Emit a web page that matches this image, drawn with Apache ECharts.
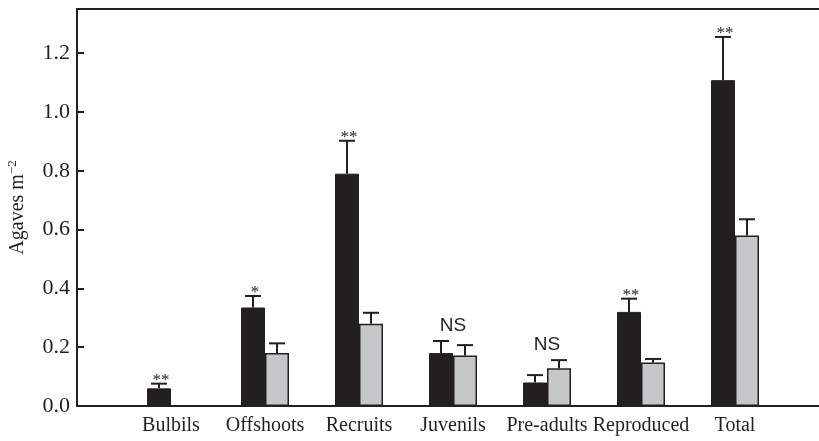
<!DOCTYPE html>
<html>
<head>
<meta charset="utf-8">
<script src="https://cdn.jsdelivr.net/npm/echarts@6/dist/echarts.min.js"></script>
<style>
  html, body { margin: 0; padding: 0; background: #fff; }
  #chart { width: 819px; height: 441px; }
</style>
</head>
<body>
<div id="chart"></div>
<script>
// data
const categories = ['Bulbils', 'Offshoots', 'Recruits', 'Juvenils', 'Pre-adults', 'Reproduced', 'Total']
const blackMean = [0.06, 0.335, 0.79, 0.18, 0.08, 0.32, 1.108]
const blackSE = [0.016, 0.039, 0.112, 0.041, 0.025, 0.045, 0.147]
const grayMean = [0, 0.18, 0.28, 0.172, 0.128, 0.148, 0.58]
const graySE = [0, 0.033, 0.037, 0.035, 0.028, 0.012, 0.055]
const sigLabels = ['**', '*', '**', 'NS', 'NS', '**', '**']
const tickValues = [0, 0.2, 0.4, 0.6, 0.8, 1.0, 1.2]

const INK = '#231f20'
const BAR_W = 24
const serif = '"Liberation Serif", "DejaVu Serif", serif'

var chart = echarts.init(document.getElementById('chart'))

function errorBars (offset) {
  return function (params, api) {
    var cat = api.value(0)
    var mean = api.value(1)
    var se = api.value(2)
    if (!se) return null
    var base = api.coord([cat, mean])
    var top = api.coord([cat, mean + se])
    var x = base[0] + offset
    return {
      type: 'group',
      children: [
        { type: 'line', shape: { x1: x, y1: base[1], x2: x, y2: top[1] }, style: { stroke: INK, lineWidth: 2 } },
        { type: 'line', shape: { x1: x - 8, y1: top[1], x2: x + 8, y2: top[1] }, style: { stroke: INK, lineWidth: 2 } }
      ]
    }
  }
}

const blackErr = categories.map((c, i) => [i, blackMean[i], blackSE[i]])
const grayErr = categories.map((c, i) => [i, grayMean[i], graySE[i]])
const sigData = categories.map((c, i) => [i, blackMean[i] + blackSE[i], grayMean[i] + graySE[i]])

const option = {
  animation: false,
  grid: [
    { left: 77, right: 0, top: 9, bottom: 35, outerBoundsMode: 'none', containLabel: false },
    { left: 124, right: 37, top: 9, bottom: 35, outerBoundsMode: 'none', containLabel: false }
  ],
  xAxis: [
    {
      gridIndex: 0, type: 'value', min: 0, max: 1, position: 'bottom',
      axisLine: { show: true, onZero: false, lineStyle: { color: INK, width: 2 } },
      axisTick: { show: false }, axisLabel: { show: false }, splitLine: { show: false }
    },
    {
      gridIndex: 0, type: 'value', min: 0, max: 1, position: 'top',
      axisLine: { show: true, onZero: false, lineStyle: { color: INK, width: 2 } },
      axisTick: { show: false }, axisLabel: { show: false }, splitLine: { show: false }
    },
    {
      gridIndex: 1, type: 'category', data: categories,
      axisLine: { show: false }, axisTick: { show: false },
      axisLabel: { color: INK, fontFamily: serif, fontSize: 20, margin: 10, interval: 0 }
    }
  ],
  yAxis: [
    {
      gridIndex: 0, type: 'value', min: 0, max: 1.35,
      name: 'Agaves m{sup|\u22122}',
      nameLocation: 'middle', nameRotate: 90, nameGap: 48,
      nameTextStyle: {
        color: INK, fontFamily: serif, fontSize: 20,
        rich: { sup: { fontFamily: serif, fontSize: 13, verticalAlign: 'top', padding: [0, 0, 10, 0], color: INK } }
      },
      axisLine: { show: true, lineStyle: { color: INK, width: 2 } },
      axisTick: { show: true, inside: true, length: 7, customValues: tickValues, lineStyle: { color: INK, width: 2 } },
      axisLabel: {
        color: INK, fontFamily: serif, fontSize: 22, margin: 7, customValues: tickValues,
        formatter: v => v.toFixed(1)
      },
      splitLine: { show: false }
    },
    {
      gridIndex: 1, type: 'value', min: 0, max: 1.35, show: false
    }
  ],
  series: [
    {
      type: 'bar', xAxisIndex: 2, yAxisIndex: 1, data: blackMean,
      barWidth: BAR_W, barGap: '0%',
      itemStyle: { color: INK, borderColor: INK, borderWidth: 1 }
    },
    {
      type: 'bar', xAxisIndex: 2, yAxisIndex: 1, data: grayMean,
      barWidth: BAR_W, barGap: '0%',
      itemStyle: { color: '#c6c7c9', borderColor: INK, borderWidth: 1.5 }
    },
    {
      type: 'custom', xAxisIndex: 2, yAxisIndex: 1, data: blackErr,
      renderItem: errorBars(-BAR_W / 2), z: 3
    },
    {
      type: 'custom', xAxisIndex: 2, yAxisIndex: 1, data: grayErr,
      renderItem: errorBars(BAR_W / 2), z: 3
    },
    {
      type: 'custom', xAxisIndex: 2, yAxisIndex: 1, data: sigData, z: 4,
      renderItem: function (params, api) {
        var cat = api.value(0)
        var label = sigLabels[params.dataIndex]
        if (label === 'NS') {
          var top = Math.max(api.value(1), api.value(2))
          var p = api.coord([cat, top])
          return {
            type: 'text',
            style: {
              x: p[0], y: p[1] - 15, text: label, align: 'center', verticalAlign: 'middle',
              fontFamily: '"Liberation Sans", Arial, sans-serif', fontSize: 19, fill: INK
            }
          }
        }
        var q = api.coord([cat, api.value(1)])
        return {
          type: 'text',
          style: {
            x: q[0] - BAR_W / 2 + 2, y: q[1] - 3, text: label, align: 'center', verticalAlign: 'middle',
            fontFamily: serif, fontSize: 17, fill: INK
          }
        }
      }
    }
  ]
}

chart.setOption(option)
</script>
</body>
</html>
